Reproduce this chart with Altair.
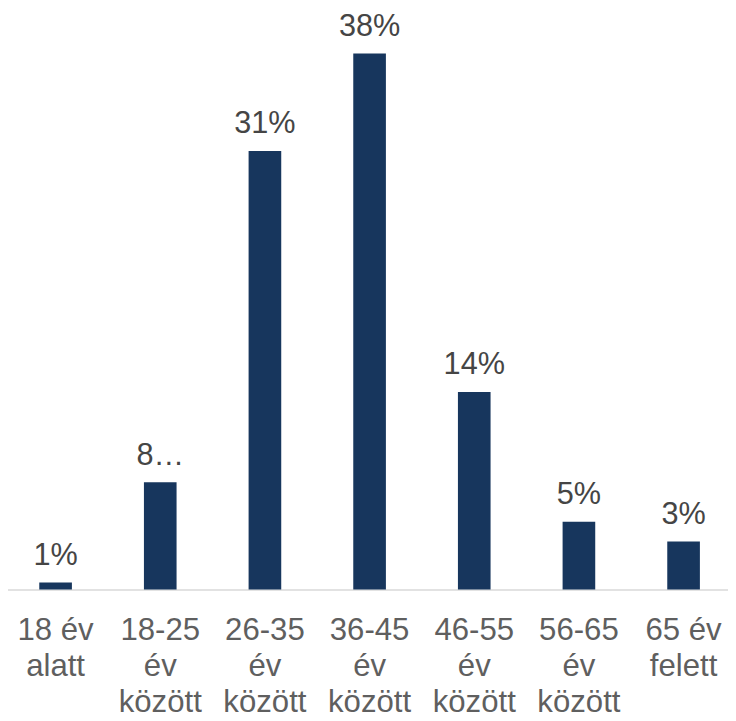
import altair as alt
import pandas as pd

categories = ["18 év|alatt", "18-25|év|között", "26-35|év|között", "36-45|év|között",
              "46-55|év|között", "56-65|év|között", "65 év|felett"]
values = [0.5, 7.6, 31.1, 38.0, 14.0, 4.8, 3.4]
labels = ["1%", "8…", "31%", "38%", "14%", "5%", "3%"]

df = pd.DataFrame({"cat": categories, "val": values, "lab": labels})

FONT = "Liberation Sans"

x = alt.X(
    "cat:N",
    sort=categories,
    title=None,
    scale=alt.Scale(range=[-4.8, 736], paddingInner=0.688, paddingOuter=0.344),
    axis=alt.Axis(
        labelExpr="split(datum.label, '|')",
        labelAngle=0,
        labelFont=FONT,
        labelFontSize=31.5,
        labelColor="#5F5F5F",
        labelLineHeight=36,
        labelBaseline="alphabetic",
        labelPadding=51,
        labelOverlap=False,
        labelLimit=300,
        ticks=False,
        domainColor="#D9D9D9",
        domainWidth=1.5,
        grid=False,
    ),
)
y = alt.Y("val:Q", title=None, scale=alt.Scale(domain=[0, 40.95], nice=False, zero=True), axis=None)

base = alt.Chart(df).encode(x=x, y=y)

bars = base.mark_bar(color="#17365D", size=33)
text = base.mark_text(font=FONT, fontSize=31, color="#454545", baseline="alphabetic", dy=-18).encode(text="lab:N")

chart = (bars + text).properties(
    width=728,
    height=584,
    autosize=alt.AutoSizeParams(type="none"),
    padding={"left": 0, "top": 0, "right": 0, "bottom": 140},
).configure_view(stroke=None)

chart.save("out.html", embed_options={"renderer": "svg", "actions": False})
